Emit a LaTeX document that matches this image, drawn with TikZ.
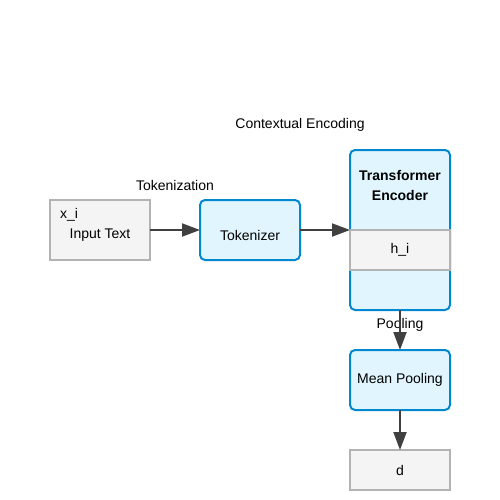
\documentclass[tikz,border=0pt]{standalone}
\usepackage{fontspec}
\setmainfont{Liberation Sans}
\usetikzlibrary{arrows.meta}
\definecolor{bluefill}{HTML}{E1F5FE}
\definecolor{bluedraw}{HTML}{0288D1}
\definecolor{grayfill}{HTML}{F4F4F4}
\definecolor{graydraw}{HTML}{B3B3B3}
\definecolor{arrowcol}{HTML}{404040}
\tikzset{
  bluebox/.style={draw=bluedraw, fill=bluefill, line width=2pt, rounded corners=5pt, inner sep=0pt, outer sep=0pt, font=\fontsize{14}{17}\selectfont},
  graybox/.style={draw=graydraw, fill=grayfill, line width=1.5pt, inner sep=0pt, outer sep=0pt, font=\fontsize{14}{17}\selectfont},
  lbl/.style={inner sep=0pt, font=\fontsize{14}{17}\selectfont},
  conn/.style={draw=arrowcol, line width=2pt, -{Triangle[length=18pt,width=13pt]}},
}
\begin{document}
\begin{tikzpicture}[x=1pt,y=-1pt]
\useasboundingbox[fill=white] (0,0) rectangle (500,500);
% Input text
\node[graybox, minimum width=100pt, minimum height=60pt] (input) at (100,230) {};
\node[lbl] (xi) at (69,215) {x\_i};
\node[lbl] (inputlbl) at (100,235) {Input Text};
% Tokenizer
\node[bluebox, minimum width=100pt, minimum height=60pt] (tok) at (250,230) {};
\node[lbl] (toklbl) at (250,235) {Tokenizer};
% Transformer
\node[bluebox, minimum width=100pt, minimum height=160pt] (trans) at (400,230) {};
\node[lbl, font=\fontsize{14}{20}\selectfont\bfseries, align=center] (translbl) at (400,185) {Transformer\\Encoder};
\node[graybox, minimum width=100pt, minimum height=40pt] (hi) at (400,250) {h\_i};
% Mean pooling
\node[bluebox, minimum width=100pt, minimum height=60pt] (pool) at (400,380) {Mean Pooling};
% d
\node[graybox, minimum width=100pt, minimum height=40pt] (d) at (400,470) {d};
% labels
\node[lbl] (tokenization) at (175,185) {Tokenization};
\node[lbl] (contextual) at (300,125) {Contextual Encoding};
\node[lbl] (pooling) at (400,325) {Pooling};
% connectors
\draw[conn] (input.east) -- (tok.west);
\draw[conn] (tok.east) -- (tok.east -| trans.west);
\draw[conn] (trans.south) -- (pool.north);
\draw[conn] (pool.south) -- (d.north);
\end{tikzpicture}
\end{document}
